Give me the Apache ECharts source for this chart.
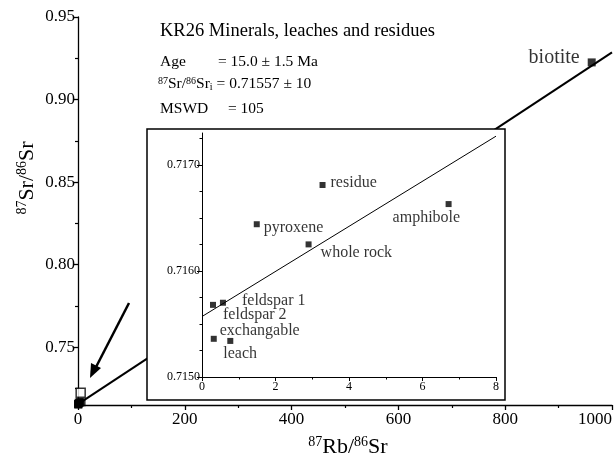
<!DOCTYPE html>
<html>
<head>
<meta charset="utf-8">
<script src="https://cdn.jsdelivr.net/npm/echarts@6/dist/echarts.min.js"></script>
<style>
  html, body { margin: 0; padding: 0; background: #fff; }
  #chart { width: 616px; height: 462px; }
</style>
</head>
<body>
<div id="chart"></div>
<script>
// KR26 Rb-Sr isochron: minerals, leaches and residues
const sampleNames = ['feldspar 1', 'feldspar 2', 'exchangable', 'leach', 'pyroxene', 'whole rock', 'residue', 'amphibole'];
const sampleRbSr = [0.57, 0.30, 0.32, 0.77, 1.49, 2.90, 3.28, 6.71];
const sampleSrSr = [0.71570, 0.71568, 0.71536, 0.71534, 0.71644, 0.71625, 0.71681, 0.71663];

const biotiteName = 'biotite';
const biotiteRbSr = [962];
const biotiteSrSr = [0.9225];

// isochron end points (full range and enlarged range)
const isochronMainX = [0, 1000];
const isochronMainY = [0.71557, 0.92857];
const isochronInsetX = [0, 8];
const isochronInsetY = [0.71557, 0.71727];

// open square marking the enlarged window near the origin
const windowMarkX = [5];
const windowMarkY = [0.7224];

// tick values
const mainYTicks = [0.75, 0.80, 0.85, 0.90, 0.95];
const mainYMinorTicks = [0.725, 0.775, 0.825, 0.875, 0.925];
const insetYTicks = [0.7150, 0.7160, 0.7170];
const insetYMinorTicks = [0.71525, 0.7155, 0.71575, 0.71625, 0.7165, 0.71675, 0.71725];

const SERIF = '"Liberation Serif", "DejaVu Serif", serif';
const INK = '#000';

// label shifts for the enlarged view (px, relative to a label placed right of its marker)
const labelShift = {
  'feldspar 1': [16, -2],
  'feldspar 2': [7, 10],
  'exchangable': [3, -8],
  'leach': [-10, 13],
  'pyroxene': [4, 4],
  'whole rock': [9, 8],
  'residue': [5, -2],
  'amphibole': [-59, 14]
};

const chart = echarts.init(document.getElementById('chart'), null, { renderer: 'canvas' });

const axisLineStyle = { color: INK, width: 1.3 };
const tickLabelMain = { color: INK, fontFamily: SERIF, fontSize: 17 };
const tickLabelInset = { color: INK, fontFamily: SERIF, fontSize: 12 };

const option = {
  animation: false,
  backgroundColor: '#fff',
  grid: [
    { left: 78, top: 17, width: 534, height: 388 },
    { left: 202, top: 133, width: 294, height: 244, z: 20 }
  ],
  xAxis: [
    {
      gridIndex: 0, type: 'value', min: 0, max: 1000, interval: 200,
      axisLine: { lineStyle: axisLineStyle },
      axisTick: { length: 5, lineStyle: axisLineStyle },
      minorTick: { show: true, splitNumber: 2, length: 3, lineStyle: { color: INK, width: 1.2 } },
      splitLine: { show: false },
      axisLabel: Object.assign({ margin: 6, alignMaxLabel: 'right', formatter: v => String(v) }, tickLabelMain)
    },
    {
      gridIndex: 1, type: 'value', min: 0, max: 8, interval: 2, z: 20,
      axisLine: { lineStyle: { color: INK, width: 1 } },
      axisTick: { length: 4, lineStyle: { color: INK, width: 1 } },
      minorTick: { show: true, splitNumber: 2, length: 2.5, lineStyle: { color: INK, width: 1 } },
      splitLine: { show: false },
      axisLabel: Object.assign({ margin: 4, formatter: v => String(v) }, tickLabelInset)
    }
  ],
  yAxis: [
    {
      gridIndex: 0, type: 'value', position: 'left', min: 0.715, max: 0.95,
      axisLine: { lineStyle: axisLineStyle },
      axisTick: { length: 5, customValues: mainYTicks, lineStyle: axisLineStyle },
      splitLine: { show: false },
      axisLabel: Object.assign({ margin: 3, customValues: mainYTicks, formatter: v => v.toFixed(2) }, tickLabelMain)
    },
    {
      gridIndex: 0, type: 'value', position: 'left', min: 0.715, max: 0.95,
      axisLine: { show: false },
      axisTick: { length: 3, customValues: mainYMinorTicks, lineStyle: { color: INK, width: 1.2 } },
      splitLine: { show: false },
      axisLabel: { show: false }
    },
    {
      gridIndex: 1, type: 'value', position: 'left', min: 0.715, max: 0.7173, z: 20,
      axisLine: { lineStyle: { color: INK, width: 1 } },
      axisTick: { length: 5, customValues: insetYTicks, lineStyle: { color: INK, width: 1 } },
      splitLine: { show: false },
      axisLabel: Object.assign({ margin: 2, customValues: insetYTicks, formatter: v => v.toFixed(4) }, tickLabelInset)
    },
    {
      gridIndex: 1, type: 'value', position: 'left', min: 0.715, max: 0.7173, z: 20,
      axisLine: { show: false },
      axisTick: { length: 2.5, customValues: insetYMinorTicks, lineStyle: { color: INK, width: 1 } },
      splitLine: { show: false },
      axisLabel: { show: false }
    }
  ],
  series: [
    // main panel: isochron and all samples
    {
      type: 'line', xAxisIndex: 0, yAxisIndex: 0, z: 2,
      data: isochronMainX.map((x, i) => [x, isochronMainY[i]]),
      symbol: 'none', lineStyle: { color: INK, width: 2 }, silent: true
    },
    {
      type: 'scatter', xAxisIndex: 0, yAxisIndex: 0, z: 3,
      data: sampleRbSr.map((x, i) => [x, sampleSrSr[i]]),
      symbol: 'rect', symbolSize: 8, itemStyle: { color: INK }
    },
    {
      type: 'scatter', xAxisIndex: 0, yAxisIndex: 0, z: 3,
      data: windowMarkX.map((x, i) => [x, windowMarkY[i]]),
      symbol: 'rect', symbolSize: 9,
      itemStyle: { color: '#fff', borderColor: INK, borderWidth: 1.5 }
    },
    {
      type: 'scatter', xAxisIndex: 0, yAxisIndex: 0, z: 3,
      data: biotiteRbSr.map((x, i) => [x, biotiteSrSr[i]]),
      symbol: 'rect', symbolSize: 8, itemStyle: { color: INK },
      label: {
        show: true, position: 'left', distance: 8, offset: [0, -5],
        formatter: biotiteName, color: INK, fontFamily: SERIF, fontSize: 20
      }
    },
    // enlarged panel
    {
      type: 'line', xAxisIndex: 1, yAxisIndex: 2, z: 30,
      data: isochronInsetX.map((x, i) => [x, isochronInsetY[i]]),
      symbol: 'none', lineStyle: { color: INK, width: 1 }, silent: true
    },
    {
      type: 'scatter', xAxisIndex: 1, yAxisIndex: 2, z: 31,
      data: sampleRbSr.map((x, i) => [x, sampleSrSr[i]]),
      symbol: 'rect', symbolSize: 6, itemStyle: { color: INK },
      label: {
        show: true, position: 'right', distance: 0,
        formatter: params => sampleNames[params.dataIndex],
        color: INK, fontFamily: SERIF, fontSize: 16
      },
      labelLayout: params => {
        const s = labelShift[sampleNames[params.dataIndex]];
        return { dx: s[0], dy: s[1], hideOverlap: false };
      }
    }
  ],
  graphic: [
    // frame of the enlarged panel
    {
      type: 'rect', z: 10, silent: true,
      shape: { x: 147, y: 129, width: 358, height: 271 },
      style: { fill: '#fff', stroke: INK, lineWidth: 1.5 }
    },
    // arrow pointing to the enlarged window
    {
      type: 'line', z: 10, silent: true,
      shape: { x1: 129, y1: 303, x2: 95, y2: 369 },
      style: { stroke: INK, lineWidth: 2.5 }
    },
    {
      type: 'polygon', z: 10, silent: true,
      shape: { points: [[90, 378], [101, 368], [91, 363]] },
      style: { fill: INK }
    },
    // header text
    {
      type: 'text', z: 40, left: 160, top: 22,
      style: { text: 'KR26 Minerals, leaches and residues', fontFamily: SERIF, fontSize: 18.5, fill: INK }
    },
    {
      type: 'text', z: 40, left: 160, top: 54,
      style: { text: 'Age', fontFamily: SERIF, fontSize: 15.5, fill: INK }
    },
    {
      type: 'text', z: 40, left: 218, top: 54,
      style: { text: '= 15.0 ± 1.5 Ma', fontFamily: SERIF, fontSize: 15.5, fill: INK }
    },
    {
      type: 'text', z: 40, left: 158, top: 76,
      style: {
        text: '{sup|87}Sr/{sup|86}Sr{sub|i} = 0.71557 ± 10',
        fontFamily: SERIF, fontSize: 15.5, fill: INK,
        rich: {
          sup: { fontFamily: SERIF, fontSize: 10, padding: [0, 0, 6, 0] },
          sub: { fontFamily: SERIF, fontSize: 10, padding: [6, 0, 0, 0] }
        }
      }
    },
    {
      type: 'text', z: 40, left: 160, top: 101,
      style: { text: 'MSWD', fontFamily: SERIF, fontSize: 15.5, fill: INK }
    },
    {
      type: 'text', z: 40, left: 228, top: 101,
      style: { text: '= 105', fontFamily: SERIF, fontSize: 15.5, fill: INK }
    },
    // axis titles
    {
      type: 'text', z: 40, x: 27, y: 178, rotation: Math.PI / 2,
      style: {
        text: '{sup|87}{big|Sr/}{sup|86}{big|Sr}',
        align: 'center', verticalAlign: 'middle', fill: INK,
        rich: {
          big: { fontFamily: SERIF, fontSize: 22, fill: INK },
          sup: { fontFamily: SERIF, fontSize: 14, fill: INK, padding: [0, 0, 9, 0] }
        }
      }
    },
    {
      type: 'text', z: 40, x: 348, y: 447,
      style: {
        text: '{sup|87}{big|Rb/}{sup|86}{big|Sr}',
        align: 'center', verticalAlign: 'middle', fill: INK,
        rich: {
          big: { fontFamily: SERIF, fontSize: 22, fill: INK },
          sup: { fontFamily: SERIF, fontSize: 14, fill: INK, padding: [0, 0, 9, 0] }
        }
      }
    }
  ]
};

chart.setOption(option);
</script>
</body>
</html>
